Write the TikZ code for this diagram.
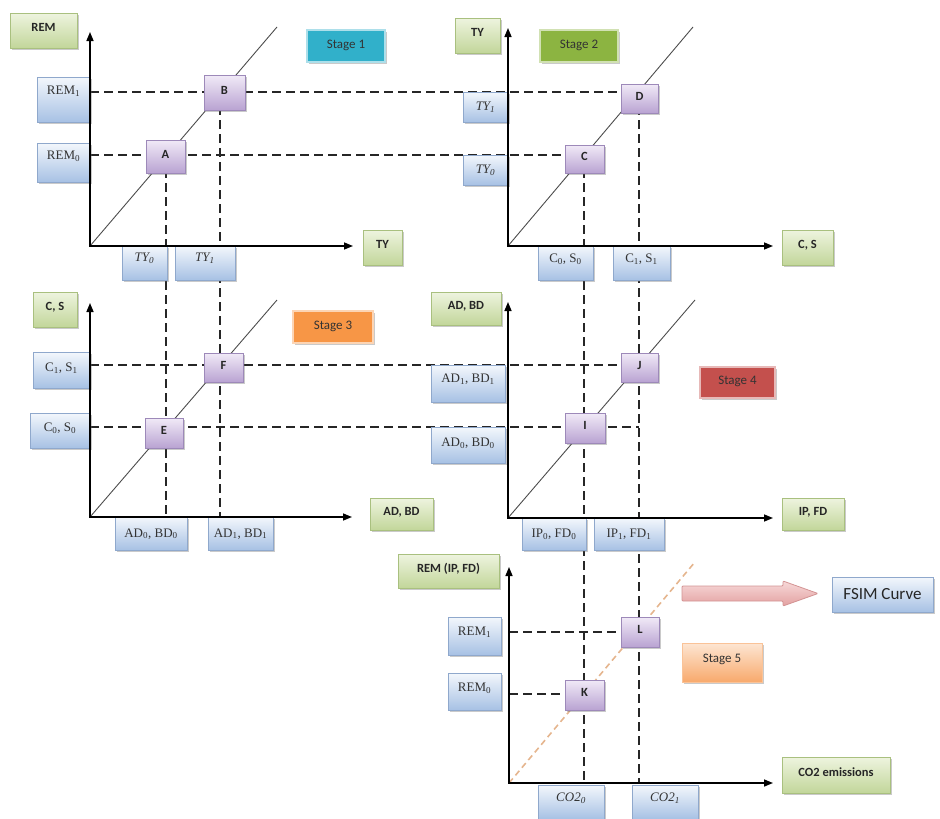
\documentclass[tikz,border=0pt]{standalone}
\usepackage{fontspec}
\setmainfont{Carlito}
\newfontfamily\valfont{Liberation Serif}
\usetikzlibrary{arrows.meta,shadows}

\definecolor{greenTop}{HTML}{EEF4DF}
\definecolor{greenBot}{HTML}{C2D69A}
\definecolor{greenEdge}{HTML}{A9C07F}
\definecolor{blueTop}{HTML}{F3F7FC}
\definecolor{blueBot}{HTML}{A7C1E4}
\definecolor{blueEdge}{HTML}{8FA8CC}
\definecolor{purpTop}{HTML}{F1EAF7}
\definecolor{purpBot}{HTML}{B9A3D2}
\definecolor{purpEdge}{HTML}{9D89B9}
\definecolor{stageA}{HTML}{31B0CA}
\definecolor{stageB}{HTML}{8CB441}
\definecolor{stageC}{HTML}{F79646}
\definecolor{stageD}{HTML}{C4504D}
\definecolor{stFiveTop}{HTML}{FDE6D3}
\definecolor{stFiveBot}{HTML}{F8A96C}
\definecolor{arrTop}{HTML}{F7D9D9}
\definecolor{arrBot}{HTML}{E3A1A1}
\definecolor{arrEdge}{HTML}{D39393}
\definecolor{curveCol}{HTML}{E5B58E}

\tikzset{
  wh/.style 2 args={minimum width=#1pt, minimum height=#2pt},
  box/.style={rectangle, inner sep=1pt, anchor=center,
    drop shadow={opacity=0.35, shadow xshift=1.5pt, shadow yshift=-1.8pt, fill=black!60}},
  gbox/.style={box, draw=greenEdge, top color=greenTop, bottom color=greenBot,
    font=\fontsize{12.5}{14}\selectfont\bfseries, text=black!85,
    text height=8pt, text depth=#1pt},
  gbox/.default=6,
  vbox/.style={box, draw=blueEdge, top color=blueTop, bottom color=blueBot,
    font=\valfont\fontsize{13}{15}\selectfont, text=black!80,
    text height=9pt, text depth=#1pt},
  vbox/.default=2,
  pbox/.style={box, draw=purpEdge, top color=purpTop, bottom color=purpBot,
    font=\fontsize{12.5}{14}\selectfont\bfseries, text=black!85,
    text height=8pt, text depth=5pt},
  stagebox/.style={box, fill=#1, draw=#1!40!white, line width=1.5pt,
    font=\fontsize{13}{15}\selectfont, text=black!80,
    text height=8pt, text depth=4pt},
  axis/.style={line width=1.5pt, {Triangle[length=9pt,width=7pt]}-{Triangle[length=9pt,width=7pt]}},
  dline/.style={line width=1.6pt, black!85, dash pattern=on 9pt off 5pt},
  diag/.style={line width=0.9pt, black!70},
  fsimcurve/.style={line width=1.6pt, curveCol, dash pattern=on 6pt off 4pt},
}

\begin{document}
\begin{tikzpicture}[x=1pt, y=-1pt]
\useasboundingbox (0,0) rectangle (940,819);

% axis origins and tips
\coordinate (o1) at (90,246);  \coordinate (t1y) at (90,32);   \coordinate (t1x) at (353,246);
\coordinate (o2) at (508,246); \coordinate (t2y) at (508,28);  \coordinate (t2x) at (773,246);
\coordinate (o3) at (90,517);  \coordinate (t3y) at (90,303);  \coordinate (t3x) at (352,517);
\coordinate (o4) at (508,518); \coordinate (t4y) at (508,302); \coordinate (t4x) at (773,518);
\coordinate (o5) at (509,783); \coordinate (t5y) at (509,567); \coordinate (t5x) at (773,783);

% upper ends of the 45-degree lines
\coordinate (d1) at (277,27);
\coordinate (d2) at (693,27);
\coordinate (d3) at (277,300);
\coordinate (d4) at (695,300);
\coordinate (d5) at (695,562);

% equilibrium points
\coordinate (pA) at (166,155);  \coordinate (pB) at (220,92);
\coordinate (pC) at (584,155);  \coordinate (pD) at (639,92);
\coordinate (pE) at (166,427);  \coordinate (pF) at (220,365);
\coordinate (pI) at (584,427);  \coordinate (pJ) at (639,365);
\coordinate (pK) at (584,694);  \coordinate (pL) at (639,632);

% 45-degree lines
\draw[diag] (o1) -- (d1);
\draw[diag] (o2) -- (d2);
\draw[diag] (o3) -- (d3);
\draw[diag] (o4) -- (d4);
\draw[fsimcurve] (o5) -- (d5);

% horizontal projections
\draw[dline] (o1 |- pB) -- (pD);
\draw[dline] (o1 |- pA) -- (pC);
\draw[dline] (o3 |- pF) -- (pJ);
\draw[dline] (o3 |- pE) -- (pJ |- pE);
\draw[dline] (o5 |- pL) -- (pL);
\draw[dline] (o5 |- pK) -- (pK);

% vertical projections
\draw[dline] (pA) -- (pA |- o3);
\draw[dline] (pB) -- (pB |- o3);
\draw[dline] (pC) -- (pC |- o5);
\draw[dline] (pD) -- (pD |- o5);

% stage tags
\node[stagebox=stageA, wh={78}{32}] (s1) at (346,46) {Stage 1};
\node[stagebox=stageB, wh={78}{32}] (s2) at (579,46) {Stage 2};
\node[stagebox=stageC, wh={80}{32}] (s3) at (333,327) {Stage 3};
\node[stagebox=stageD, wh={75}{31}] (s4) at (737.5,382.5) {Stage 4};
\node[box, draw=stFiveBot!70!white, top color=stFiveTop, bottom color=stFiveBot,
      font=\fontsize{13}{15}\selectfont, text=black!80, text height=8pt, text depth=8pt,
      wh={80}{39}] (s5) at (722,662.5) {Stage 5};

% axis titles
\node[gbox, wh={67}{35}]  (lREM)   at (43.5,30.5)  {REM};
\node[gbox, wh={39}{35}]  (lTYx)   at (382.5,247.5) {TY};
\node[gbox, wh={45}{35}]  (lTYy)   at (477.5,35.5) {TY};
\node[gbox, wh={51}{35}]  (lCSx)   at (807.5,247.5) {C, S};
\node[gbox, wh={44}{35}]  (lCSy)   at (55,309.5)   {C, S};
\node[gbox, wh={63}{32}]  (lADx)   at (401.5,514)  {AD, BD};
\node[gbox, wh={70}{33}]  (lADy)   at (466,308.5)  {AD, BD};
\node[gbox, wh={62}{32}]  (lIPx)   at (813,514)    {IP, FD};
\node[gbox, wh={101}{34}] (lREMy)  at (448.5,571)  {REM (IP, FD)};
\node[gbox, wh={108}{36}] (lCOx)   at (836,775)    {CO2 emissions};

% values on the axes
\node[vbox=19, wh={53}{45}] (vREM1a) at (63.5,99.5)  {REM\textsubscript{1}};
\node[vbox=15, wh={53}{39}] (vREM0a) at (63.5,162.5) {REM\textsubscript{0}};
\node[vbox=12, wh={45}{34}] (vTY0a)  at (144.5,263)  {\itshape TY\textsubscript{0}};
\node[vbox=12, wh={60}{34}] (vTY1a)  at (205,263)    {\itshape TY\textsubscript{1}};
\node[vbox, wh={45}{30}]    (vTY1b)  at (485.5,107)  {\itshape TY\textsubscript{1}};
\node[vbox, wh={45}{30}]    (vTY0b)  at (485.5,170)  {\itshape TY\textsubscript{0}};
\node[vbox=10, wh={55}{34}] (vCS0b)  at (565.5,263)  {C\textsubscript{0}, S\textsubscript{0}};
\node[vbox=10, wh={57}{34}] (vCS1b)  at (641.5,263)  {C\textsubscript{1}, S\textsubscript{1}};
\node[vbox=6, wh={57}{36}]  (vCS1c)  at (61.5,370)   {C\textsubscript{1}, S\textsubscript{1}};
\node[vbox=7, wh={60}{35}]  (vCS0c)  at (60,430.5)   {C\textsubscript{0}, S\textsubscript{0}};
\node[vbox, wh={72}{33}]    (vAD0c)  at (151,533.5)  {AD\textsubscript{0}, BD\textsubscript{0}};
\node[vbox, wh={65}{33}]    (vAD1c)  at (240.5,533.5) {AD\textsubscript{1}, BD\textsubscript{1}};
\node[vbox=11, wh={74}{37}] (vAD1d)  at (468,383.5)  {AD\textsubscript{1}, BD\textsubscript{1}};
\node[vbox=6, wh={74}{36}]  (vAD0d)  at (468,445)    {AD\textsubscript{0}, BD\textsubscript{0}};
\node[vbox, wh={64}{32}]    (vIP0)   at (554,534)    {IP\textsubscript{0}, FD\textsubscript{0}};
\node[vbox, wh={70}{32}]    (vIP1)   at (629,534)    {IP\textsubscript{1}, FD\textsubscript{1}};
\node[vbox=10, wh={53}{38}] (vREM1e) at (474.5,636)  {REM\textsubscript{1}};
\node[vbox=9, wh={53}{37}]  (vREM0e) at (474.5,691.5) {REM\textsubscript{0}};
\node[vbox=10, wh={66}{34}] (vCO0)   at (571,802)    {\itshape CO2\textsubscript{0}};
\node[vbox=10, wh={66}{34}] (vCO1)   at (665,802)    {\itshape CO2\textsubscript{1}};

% equilibrium point tags
\node[pbox, wh={39}{33}] (A) at (165.5,156.5) {A};
\node[pbox, wh={41}{35}] (B) at (224.5,92.5)  {B};
\node[pbox, wh={39}{28}] (C) at (584.5,159)   {C};
\node[pbox, wh={37}{29}] (D) at (639.5,98.5)  {D};
\node[pbox, wh={38}{30}] (E) at (164,433)     {E};
\node[pbox, wh={39}{29}] (F) at (223.5,367.5) {F};
\node[pbox, wh={40}{30}] (I) at (585,428)     {I};
\node[pbox, wh={37}{29}] (J) at (639.5,367.5) {J};
\node[pbox, wh={39}{30}] (K) at (584.5,695)   {K};
\node[pbox, wh={38}{30}] (L) at (640,632)     {L};

% resulting curve tag and its pointer
\node[box, draw=blueEdge, top color=blueTop, bottom color=blueBot,
      font=\fontsize{17}{19}\selectfont, text=black!85, wh={101}{35}] (fsim) at (882.5,594.5) {FSIM Curve};
\path[draw=arrEdge, line width=0.8pt, top color=arrTop, bottom color=arrBot, rounded corners=1pt]
  (682,586) -- (783,586) -- (783,581) -- (818,593.5) -- (783,606) -- (783,601) -- (682,601) -- cycle;

% axes
\draw[axis] (t1y) -- (o1) -- (t1x);
\draw[axis] (t2y) -- (o2) -- (t2x);
\draw[axis] (t3y) -- (o3) -- (t3x);
\draw[axis] (t4y) -- (o4) -- (t4x);
\draw[axis] (t5y) -- (o5) -- (t5x);
\end{tikzpicture}
\end{document}
